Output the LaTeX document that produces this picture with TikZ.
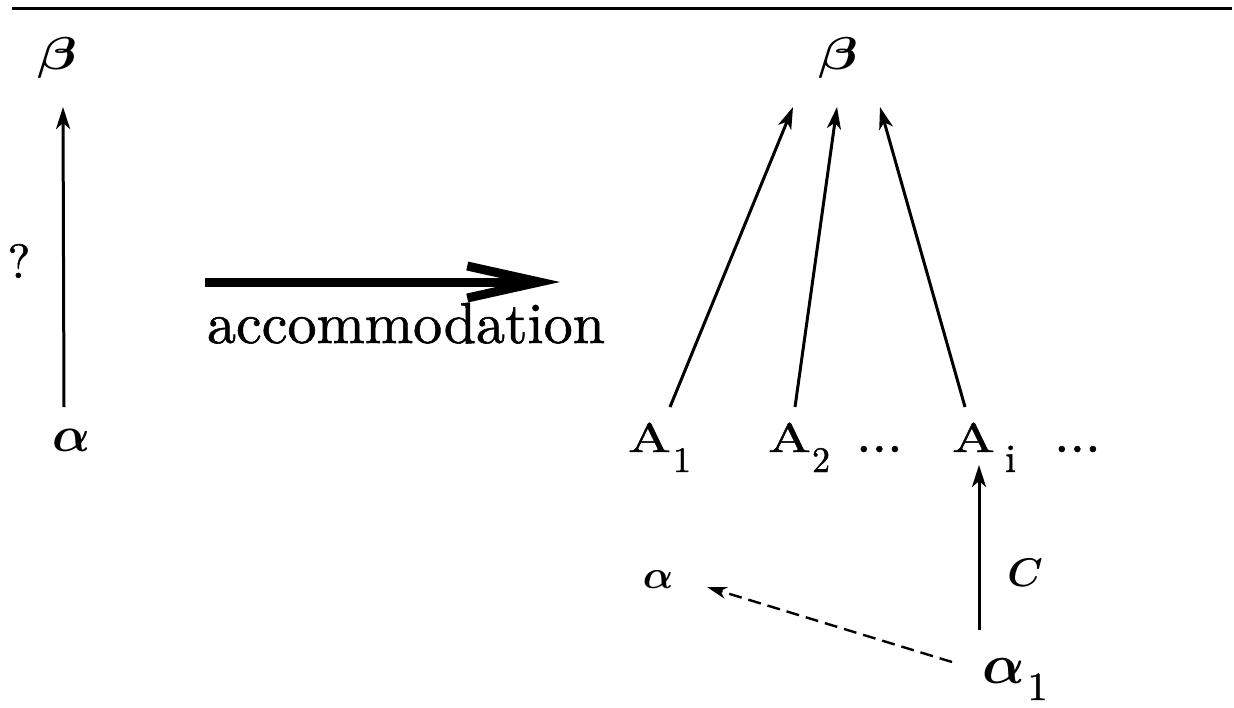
\RequirePackage{fix-cm}
\documentclass[tikz,border=0pt]{standalone}
\usepackage{fontspec}
\setmainfont{lmroman10-regular.otf}[ItalicFont=lmroman10-italic.otf, BoldFont=lmroman10-bold.otf, FakeBold=1]
\usepackage{bm}
\usepackage{graphicx}
\usetikzlibrary{arrows.meta,calc}
\newcommand\fsz[1]{\fontsize{#1}{#1}\selectfont}
\newcommand\wide[1]{\scalebox{1.4}[1]{#1}}
% letter A with a lowered subscript: #1 subscript, #2 kern, #3 size
\newcommand\Asub[3]{\wide{A}\kern#2\raisebox{-10pt}{\fsz{#3}#1}}
\tikzset{
  lbl/.style={inner sep=0pt, outer sep=0pt},
  arr/.style={line width=1.5pt, -{Stealth[length=11pt,width=7pt,inset=3pt]}},
  dasharr/.style={line width=1.2pt, dash pattern=on 6.5pt off 3.5pt, -{Stealth[length=10pt,width=6pt,inset=3pt]}},
  bigarr/.style={line width=4.5pt, -{Straight Barb[length=36pt,width=16pt]}},
  rule/.style={line width=1.5pt}
}
\begin{document}
\begin{tikzpicture}[x=0.5pt,y=-0.5pt]
\useasboundingbox (0,0) rectangle (1234,707);
\fill[white] (0,0) rectangle (1234,707);
% top rule
\coordinate (rl) at (12,8);
\coordinate (rr) at (1232,8);
\draw[rule] (rl) -- (rr);
% left part
\node[lbl] (bL) at (57,58) {\fsz{23}\scalebox{1.25}[1]{$\bm{\beta}$}};
\node[lbl] (aL) at (72,440) {\fsz{25}$\bm{\alpha}$};
\node[lbl] (q) at (19,261) {\fsz{24}?};
\draw[arr] ($(aL)+(-8,-33)$) -- ($(bL)+(6,49)$);
% middle
\node[lbl, anchor=base west] (acc) at (207,343) {\fsz{29}accommodation};
\draw[bigarr] ($(acc.base west)+(-2,-61)$) -- ($(acc.base west)+(353,-61)$);
% right part
\node[lbl] (bR) at (838,58) {\fsz{23}\scalebox{1.25}[1]{$\bm{\beta}$}};
\node[lbl, anchor=base west] (A1) at (628,452) {\fsz{20.5}\Asub{1}{1pt}{18}};
\node[lbl, anchor=base west] (A2) at (768,452) {\fsz{20.5}\Asub{2}{0.5pt}{18}};
\node[lbl, anchor=base west] (d1) at (856,452) {\fsz{28}...};
\node[lbl, anchor=base west] (Ai) at (952,452) {\fsz{20.5}\Asub{i}{5pt}{20}};
\node[lbl, anchor=base west] (d2) at (1054,452) {\fsz{28}...};
\node[lbl] (aS) at (658,580) {\fsz{20}$\bm{\alpha}$};
\node[lbl, anchor=base west] (a1) at (982,683) {\fsz{28}$\bm{\alpha}$\kern1.5pt\raisebox{-8.5pt}{\fsz{20}1}};
\node[lbl] (C) at (1025,573) {\fsz{20}$\bm{C}$};
\draw[arr] ($(A1.base west)+(42,-45)$) -- ($(bR)+(-45,49)$);
\draw[arr] ($(A2.base west)+(27,-45)$) -- ($(bR)+(-1,49)$);
\draw[arr] ($(Ai.base west)+(13,-45)$) -- ($(bR)+(42,49)$);
\draw[arr] ($(a1.base west)+(-3,-53)$) -- ($(Ai.base west)+(27,13)$);
\draw[dasharr] ($(a1.base west)+(-30,-21)$) -- ($(aS)+(49,7)$);
\end{tikzpicture}
\end{document}
